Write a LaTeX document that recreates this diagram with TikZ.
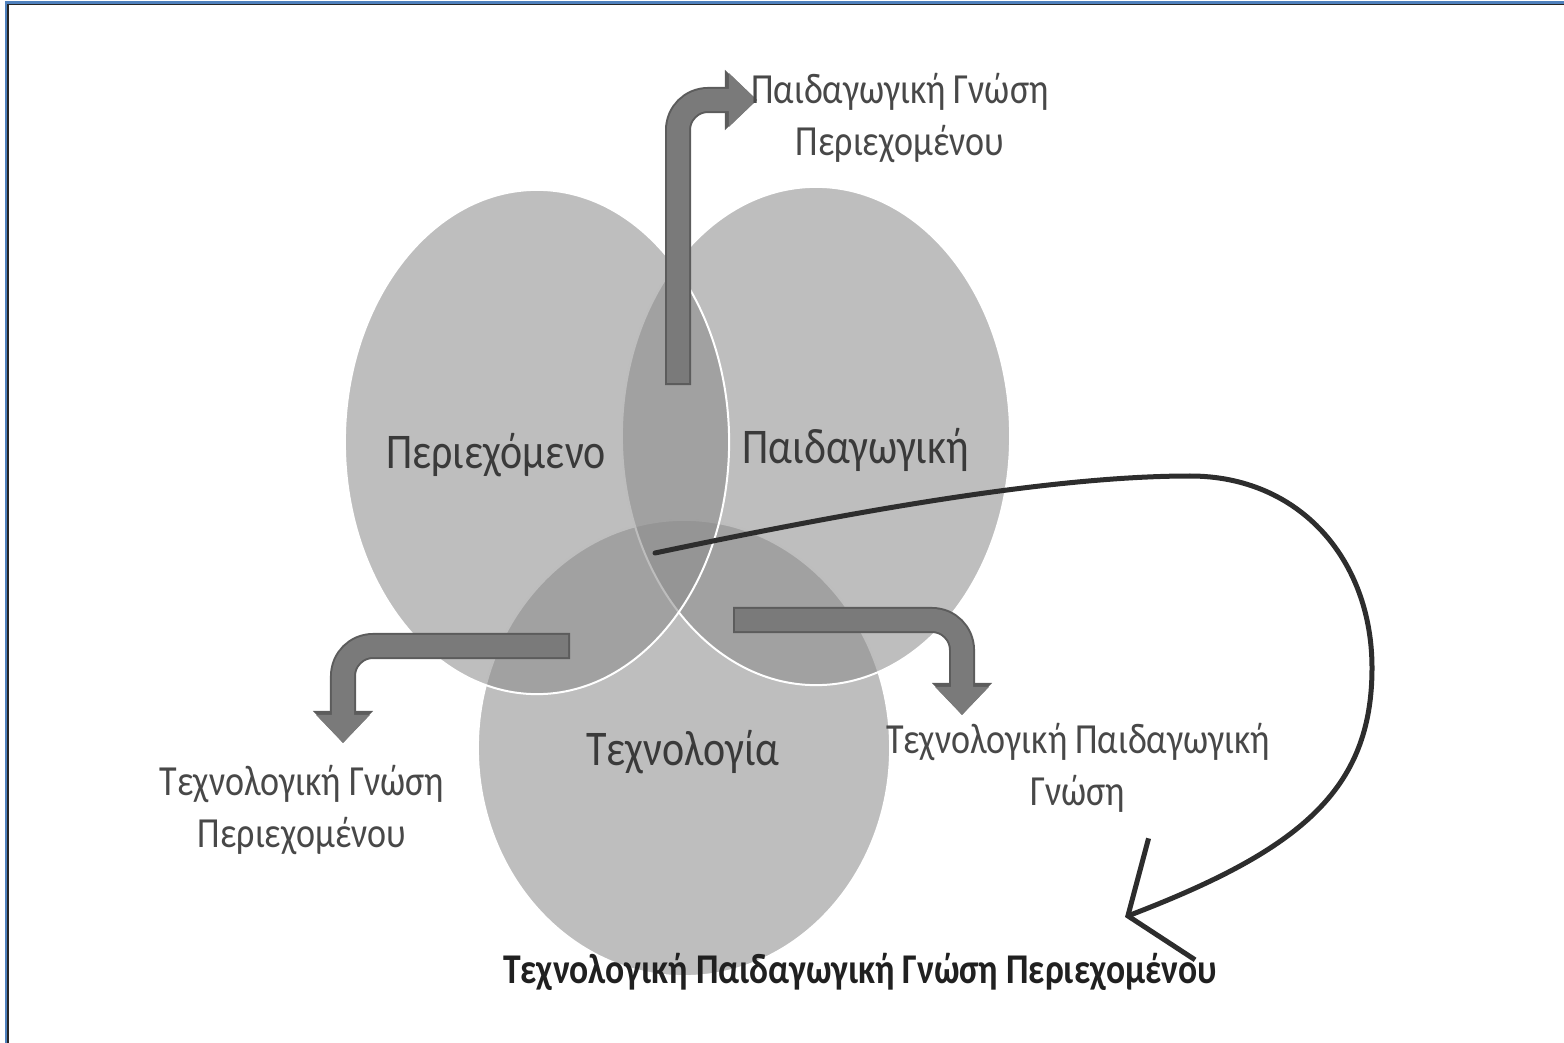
\documentclass[tikz,border=0pt]{standalone}
\usepackage{fontspec}
\usetikzlibrary{shapes.geometric,arrows.meta}
\newfontfamily\vennfont{Carlito}[FakeStretch=0.84]

\definecolor{vennfill}{RGB}{140,140,140}
\definecolor{arrowfill}{RGB}{122,122,122}
\definecolor{arrowedge}{RGB}{92,92,92}
\definecolor{frameblue}{RGB}{79,129,189}
\definecolor{labelgray}{RGB}{58,58,58}
\definecolor{sublabelgray}{RGB}{72,72,72}
\definecolor{tpckgray}{RGB}{32,32,32}
\definecolor{handline}{RGB}{45,45,45}

\begin{document}
\begin{tikzpicture}[x=0.01cm, y=-0.01cm,
  venn/.style={ellipse, fill=vennfill, fill opacity=0.57, draw=white, line width=0.02cm, inner sep=0pt},
  circlabel/.style={font=\vennfont\fontsize{14.2}{17}\selectfont, text=labelgray},
  knowlabel/.style={font=\vennfont\fontsize{12.2}{14.8}\selectfont, text=sublabelgray, align=center},
  bigarrow/.style={draw=arrowfill, line width=0.22cm, rounded corners=0.3cm, -{Triangle[length=0.28cm, width=0.52cm]}},
  bigarrowedge/.style={draw=arrowedge, line width=0.26cm, rounded corners=0.3cm, shorten <=-0.02cm, -{Triangle[length=0.32cm, width=0.58cm]}},
  handarrow/.style={draw=handline, line width=0.05cm, line cap=round, -{Straight Barb[length=0.47cm, width=1.3cm]}}]
\useasboundingbox (0,0) rectangle (1564,1043);

% frame
\draw[frameblue, line width=0.025cm] (6,1043) -- (6,2.5) -- (1564,2.5);
\draw[black!85, line width=0.012cm] (8,1043) -- (8,4.5) -- (1564,4.5);

% circles
\node[venn, minimum width=4.12cm, minimum height=4.56cm] (tech) at (684,748) {};
\node[venn, minimum width=3.88cm, minimum height=4.98cm] (ped) at (816,436) {};
\node[venn, minimum width=3.84cm, minimum height=5.04cm] (cont) at (537,442) {};

\coordinate (pckStart) at (678,383);
\coordinate (pckTip) at (757,100);
\coordinate (tckStart) at (568,646);
\coordinate (tckTip) at (343,743);
\coordinate (tpkStart) at (735,620);
\coordinate (tpkTip) at (962,715);
\coordinate (tpckStart) at (655,553);
\coordinate (tpckTip) at (1125,917);

\foreach \pass in {bigarrowedge,bigarrow}{
  \draw[\pass] (pckStart) |- (pckTip);
  \draw[\pass] (tckStart) -| (tckTip);
  \draw[\pass] (tpkStart) -| (tpkTip);
}

\node[circlabel] (contLbl) at (496,455) {Περιεχόμενο};
\node[circlabel] (pedLbl) at (856,450) {Παιδαγωγική};
\node[circlabel] (techLbl) at (683,752) {Τεχνολογία};
\node[knowlabel] (pck) at (900,118) {Παιδαγωγική Γνώση\\Περιεχομένου};
\node[knowlabel] (tck) at (302,810) {Τεχνολογική Γνώση\\Περιεχομένου};
\node[knowlabel] (tpk) at (1078,768) {Τεχνολογική Παιδαγωγική\\Γνώση};
\node[knowlabel, font=\vennfont\bfseries\fontsize{12.05}{14}\selectfont, text=tpckgray] (tpck) at (860,972) {Τεχνολογική Παιδαγωγική Γνώση Περιεχομένου};

% hand drawn arrow
\draw[handarrow] (tpckStart) .. controls (850,512) and (1050,476) .. (1190,476)
  .. controls (1300,476) and (1372,560) .. (1372,668)
  .. controls (1372,790) and (1300,850) .. (tpckTip);

\end{tikzpicture}
\end{document}
